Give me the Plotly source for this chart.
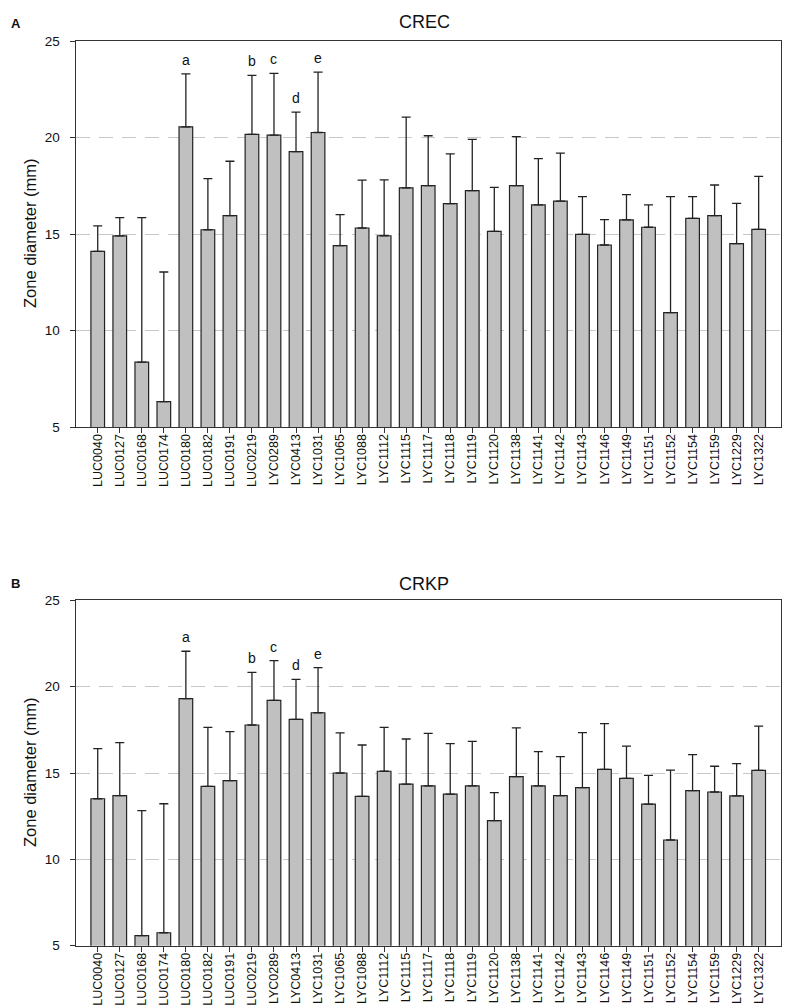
import plotly.graph_objects as go

strains = ["LUC0040", "LUC0127", "LUC0168", "LUC0174", "LUC0180", "LUC0182", "LUC0191",
           "LUC0219", "LYC0289", "LYC0413", "LYC1031", "LYC1065", "LYC1088", "LYC1112",
           "LYC1115", "LYC1117", "LYC1118", "LYC1119", "LYC1120", "LYC1138", "LYC1141",
           "LYC1142", "LYC1143", "LYC1146", "LYC1149", "LYC1151", "LYC1152", "LYC1154",
           "LYC1159", "LYC1229", "LYC1322"]

crec_mean = [14.1, 14.9, 8.36, 6.31, 20.55, 15.22, 15.95, 20.16, 20.12, 19.27, 20.26, 14.4,
             15.31, 14.91, 17.39, 17.51, 16.57, 17.25, 15.14, 17.51, 16.51, 16.7, 14.98,
             14.43, 15.73, 15.35, 10.93, 15.81, 15.95, 14.5, 15.24]
crec_top = [15.42, 15.85, 15.85, 13.03, 23.3, 17.87, 18.77, 23.22, 23.32, 21.31, 23.39, 16.0,
            17.79, 17.8, 21.06, 20.09, 19.15, 19.9, 17.42, 20.05, 18.91, 19.19, 16.94,
            15.74, 17.04, 16.51, 16.94, 16.94, 17.54, 16.59, 17.99]

crkp_mean = [13.51, 13.69, 5.58, 5.75, 19.31, 14.23, 14.56, 17.78, 19.21, 18.11, 18.49, 15.0,
             13.65, 15.1, 14.36, 14.25, 13.78, 14.25, 12.24, 14.79, 14.25, 13.69, 14.15,
             15.21, 14.69, 13.2, 11.12, 13.98, 13.9, 13.67, 15.15]
crkp_top = [16.41, 16.76, 12.82, 13.22, 22.05, 17.64, 17.39, 20.83, 21.51, 20.42, 21.1, 17.32,
            16.62, 17.64, 16.97, 17.3, 16.7, 16.83, 13.86, 17.61, 16.24, 15.95, 17.34,
            17.86, 16.56, 14.86, 15.17, 16.06, 15.39, 15.54, 17.72]

sig_index = [4, 7, 8, 9, 10]
sig_letters = ["a", "b", "c", "d", "e"]

y_ticks = [5, 10, 15, 20, 25]
panels = [("CREC", "A", crec_mean, crec_top), ("CRKP", "B", crkp_mean, crkp_top)]

W, H = 800, 1007
FONT = "Arial, Liberation Sans, sans-serif"
xdom = [67.7 / W, 772.7 / W]
ydoms = [[1 - 419 / H, 1 - 33 / H], [1 - 937.7 / H, 1 - 592.3 / H]]
title_y = [14, 575.5]
ytitle_center = [226, 765]

fig = go.Figure()
annotations = []
for k, (name, lab, mean, top) in enumerate(panels):
    xa = "x" if k == 0 else "x2"
    ya = "y" if k == 0 else "y2"
    xs = list(range(len(strains)))
    fig.add_trace(go.Bar(
        x=xs, y=mean, base=0, width=0.62, xaxis=xa, yaxis=ya,
        marker=dict(color="#c0c0c0", line=dict(color="#222222", width=1.2)),
        error_y=dict(type="data", symmetric=False,
                     array=[t - m for t, m in zip(top, mean)],
                     arrayminus=[0] * len(mean),
                     color="#222222", thickness=1.3, width=4.5),
        showlegend=False, hoverinfo="x+y",
    ))
    for i, letter in zip(sig_index, sig_letters):
        annotations.append(dict(x=i, y=top[i], xref=xa, yref=ya, text=letter,
                                showarrow=False, yanchor="bottom", yshift=4,
                                font=dict(family=FONT, size=14, color="#111")))
    annotations.append(dict(x=416 / W, y=1 - title_y[k] / H, xref="paper", yref="paper",
                            text=name, showarrow=False, xanchor="center", yanchor="middle",
                            font=dict(family=FONT, size=18, color="#111")))
    annotations.append(dict(x=7.5 / W, y=1 - (15.5 if k == 0 else 575) / H, xref="paper",
                            yref="paper", text="<b>%s</b>" % lab, showarrow=False,
                            xanchor="center", yanchor="middle",
                            font=dict(family=FONT, size=13, color="#111")))
    annotations.append(dict(x=22 / W, y=1 - ytitle_center[k] / H, xref="paper", yref="paper",
                            text="Zone diameter (mm)", textangle=-90, showarrow=False,
                            xanchor="center", yanchor="middle",
                            font=dict(family=FONT, size=16.5, color="#111")))

    axis_common = dict(showline=True, linecolor="#333333", linewidth=1.3, mirror=True,
                       ticks="outside", ticklen=5, tickwidth=1.2, tickcolor="#333333",
                       automargin=False)
    fig.update_layout(**{
        ("xaxis" if k == 0 else "xaxis2"): dict(
            domain=xdom, anchor=ya, range=[-1, 31],
            tickvals=xs, ticktext=strains, tickangle=-90,
            tickfont=dict(family=FONT, size=12.5, color="#111"),
            showgrid=False, zeroline=False, ticklabelstandoff=-4, **axis_common),
        ("yaxis" if k == 0 else "yaxis2"): dict(
            domain=ydoms[k], anchor=xa, range=[5, 25], tickvals=y_ticks,
            tickfont=dict(family=FONT, size=13.5, color="#111"),
            showgrid=True, gridcolor="#c8c8c8", gridwidth=1.2, griddash="14px,9px",
            zeroline=False, ticklabelstandoff=7, **axis_common),
    })

fig.update_layout(width=W, height=H, margin=dict(l=0, r=0, t=0, b=0),
                  plot_bgcolor="white", paper_bgcolor="white",
                  annotations=annotations, bargap=0.38)
fig.write_html("out.html")
